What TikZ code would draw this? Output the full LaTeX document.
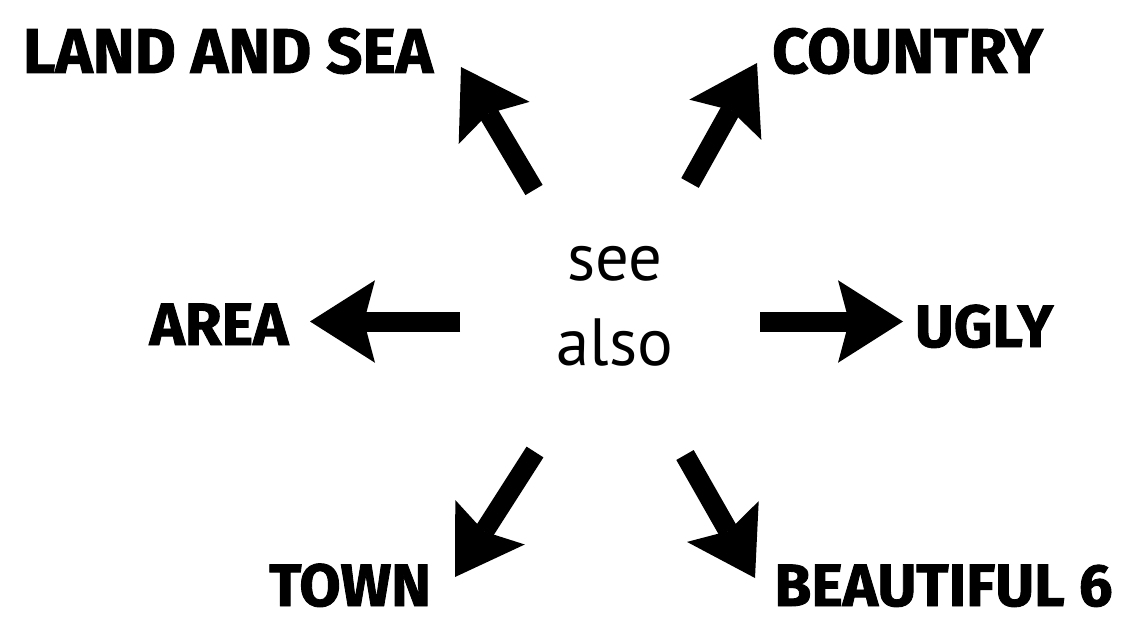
\documentclass[tikz,border=0pt]{standalone}
\usepackage{fontspec}
\setmainfont{PT Sans}
\newfontfamily\lblfont{Fira Sans}[BoldFeatures={FakeBold=1.5}]
\usetikzlibrary{arrows.meta}

\tikzset{
  word/.style={font=\lblfont\bfseries\fontsize{34}{40}\selectfont, anchor=base, inner sep=0pt},
  bigword/.style={word, font=\lblfont\bfseries\fontsize{36}{42}\selectfont},
  seeword/.style={font=\fontsize{38}{46}\selectfont, anchor=base, inner sep=0pt},
  seearrow/.style={line width=0.4cm, line cap=butt,
    -{Stealth[length=1.3cm, width=1.65cm, inset=0.22cm, line width=0pt]}}
}

\begin{document}
\begin{tikzpicture}
	\useasboundingbox (0,0) rectangle (22.44,12.46);
	% middle
	\node[seeword] (see) at (12.30,6.86) {see};
	\node[seeword] (also) at (12.30,5.16) {also};
	% the six words round it
	\node[bigword] (land) at (4.56,11.00) {LAND AND SEA};
	\node[bigword] (country) at (18.15,11.00) {COUNTRY};
	\node[word] (area) at (4.38,5.56) {AREA};
	\node[word] (ugly) at (19.68,5.52) {UGLY};
	\node[word] (town) at (7.00,0.34) {TOWN};
	\node[word] (beautiful) at (18.87,0.34) {BEAUTIFUL 6};
	% arrow ends
	\coordinate (nw-s) at (10.68,8.66); \coordinate (nw-e) at (9.22,11.12);
	\coordinate (ne-s) at (13.80,8.80); \coordinate (ne-e) at (15.14,11.20);
	\coordinate (w-s) at (9.20,6.03);   \coordinate (w-e) at (6.20,6.03);
	\coordinate (e-s) at (15.20,6.03);  \coordinate (e-e) at (18.06,6.03);
	\coordinate (sw-s) at (10.70,3.42); \coordinate (sw-e) at (9.10,0.92);
	\coordinate (se-s) at (13.70,3.36); \coordinate (se-e) at (15.10,0.90);
	\draw[seearrow] (nw-s) -- (nw-e);
	\draw[seearrow] (ne-s) -- (ne-e);
	\draw[seearrow] (w-s) -- (w-e);
	\draw[seearrow] (e-s) -- (e-e);
	\draw[seearrow] (sw-s) -- (sw-e);
	\draw[seearrow] (se-s) -- (se-e);
\end{tikzpicture}
\end{document}
